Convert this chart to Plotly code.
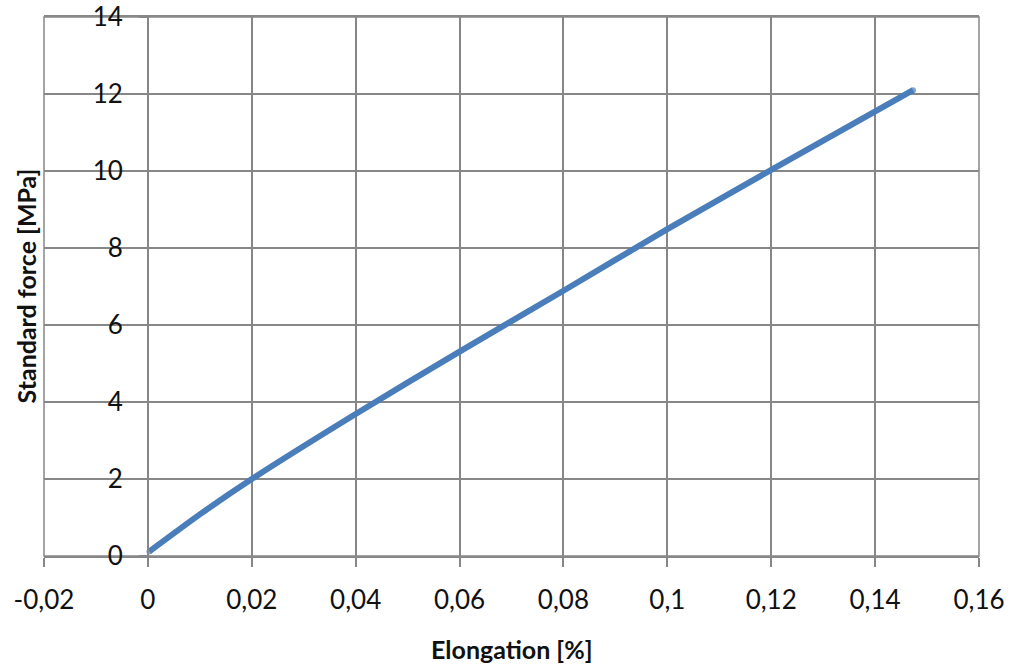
import plotly.graph_objects as go

# Tensile test: elongation [%] vs. standard force [MPa]
elongation = [0.0003, 0.01, 0.02, 0.04, 0.06, 0.08, 0.10, 0.12, 0.1473]
force = [0.12, 1.08, 2.00, 3.69, 5.31, 6.89, 8.49, 10.03, 12.10]

x_ticks = [-0.02, 0, 0.02, 0.04, 0.06, 0.08, 0.10, 0.12, 0.14, 0.16]
x_tick_text = ["-0,02", "0", "0,02", "0,04", "0,06", "0,08", "0,1", "0,12", "0,14", "0,16"]
y_ticks = [0, 2, 4, 6, 8, 10, 12, 14]
y_tick_text = ["0", "2", "4", "6", "8", "10", "12", "14"]

GRID = "#878787"
TICK_FONT = dict(family="Lato", size=26, color="#111111")
TITLE_FONT = dict(family="Lato", size=25, color="#111111")

x_min, x_max = x_ticks[0], x_ticks[-1]

fig = go.Figure()
fig.add_trace(go.Scatter(
    x=elongation, y=force,
    mode="lines+markers",
    line=dict(color="#4a7ebb", width=6, shape="spline", smoothing=0.6),
    marker=dict(color="#4a7ebb", line=dict(width=0),
                size=[6] + [0] * (len(elongation) - 2) + [6]),
    showlegend=False,
))

fig.update_layout(
    width=1018, height=672,
    margin=dict(l=44, r=39, t=17, b=116, autoexpand=False),
    paper_bgcolor="white", plot_bgcolor="white",
    xaxis=dict(
        range=[x_min, x_max], tickvals=x_ticks, ticktext=x_tick_text,
        showgrid=True, gridcolor=GRID, gridwidth=1.5,
        showline=True, linecolor=GRID, linewidth=1.5, mirror=True,
        ticks="outside", ticklen=9, tickcolor=GRID, tickwidth=1.5,
        ticklabelstandoff=11, tickfont=TICK_FONT, zeroline=False,
        automargin=False,
    ),
    yaxis=dict(
        range=[0, 14], tickvals=y_ticks, ticktext=y_tick_text,
        anchor="free", position=(0 - x_min) / (x_max - x_min),
        showgrid=True, gridcolor=GRID, gridwidth=1.5,
        showline=True, linecolor=GRID, linewidth=1.5,
        ticks="outside", ticklen=8, tickcolor=GRID, tickwidth=1.5,
        ticklabelstandoff=11, tickfont=TICK_FONT, zeroline=False,
        automargin=False,
    ),
    shapes=[dict(type="rect", xref="paper", yref="paper", x0=0, x1=1, y0=0, y1=1,
                 line=dict(color=GRID, width=1.5), layer="below")],
    annotations=[
        dict(text="<b>Elongation [%]</b>", xref="paper", yref="paper",
             x=0.5, y=-0.172, xanchor="center", yanchor="middle",
             showarrow=False, font=TITLE_FONT),
        dict(text="<b>Standard force [MPa]</b>", xref="paper", yref="paper",
             x=-0.0203, y=0.5, xanchor="center", yanchor="middle",
             textangle=-90, showarrow=False, font=TITLE_FONT),
    ],
)

fig.write_html("out.html")
